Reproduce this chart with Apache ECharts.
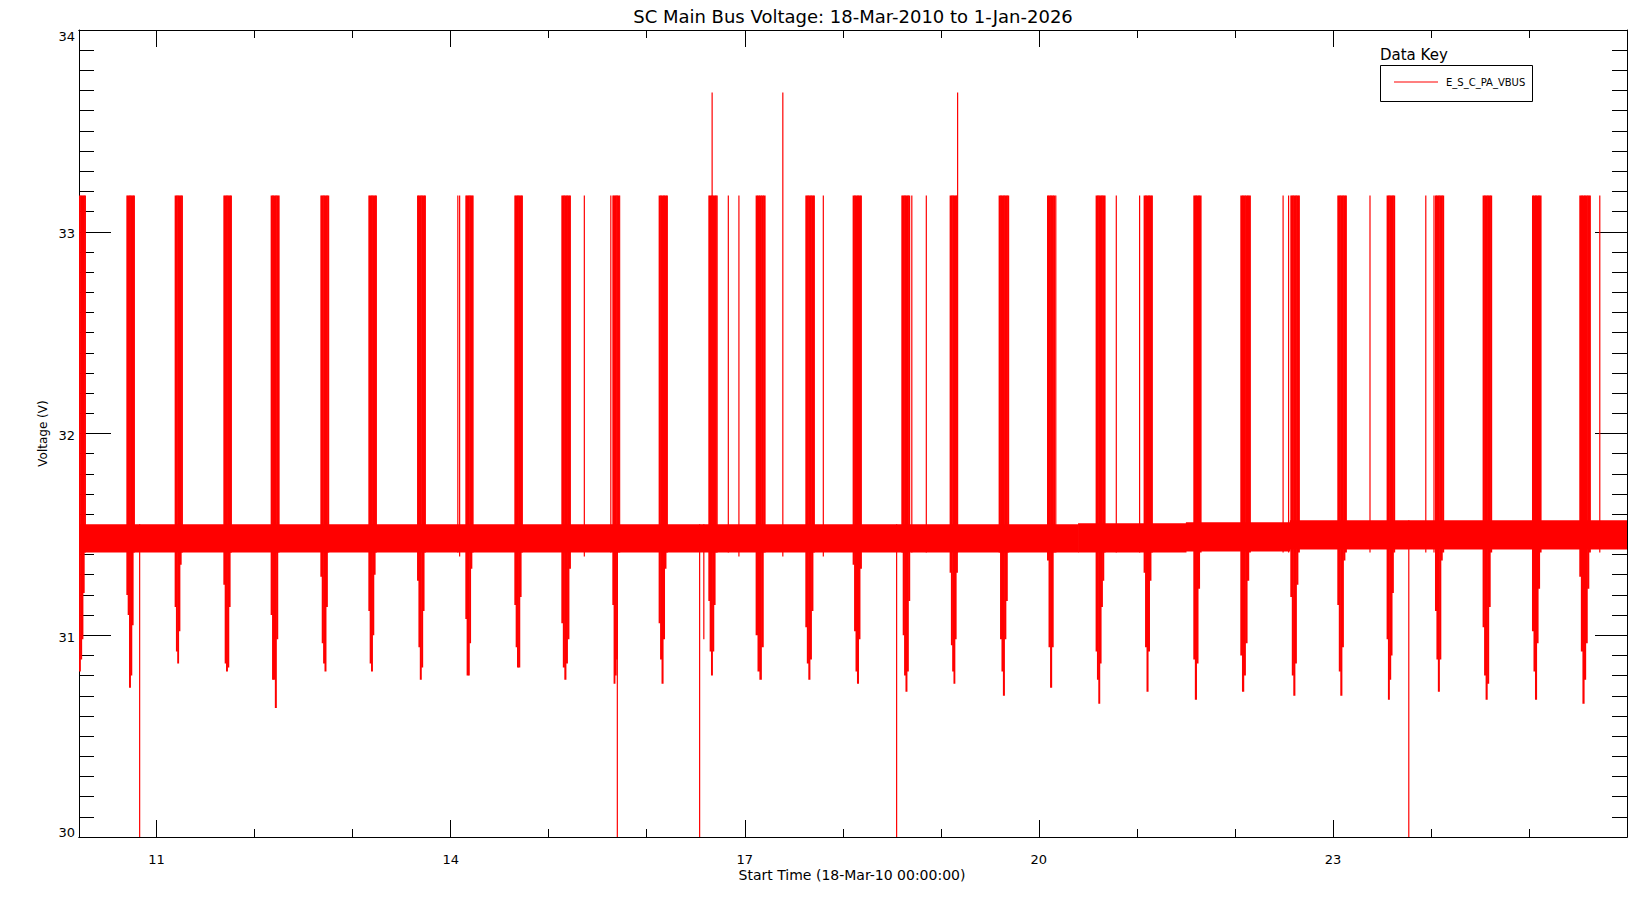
<!DOCTYPE html>
<html>
<head>
<meta charset="utf-8">
<script src="https://cdn.jsdelivr.net/npm/echarts@6/dist/echarts.min.js"></script>
<style>html,body{margin:0;padding:0;background:#fff}#chart{width:1650px;height:900px}</style>
</head>
<body>
<div id="chart"></div>
<script>
// ---------------- DATA (decimal years / volts) ----------------
const xStart = 2010.2082;   // 18-Mar-2010
const xEnd = 2026.0;        // 1-Jan-2026
const yearTicks = [2011, 2012, 2013, 2014, 2015, 2016, 2017, 2018, 2019, 2020, 2021, 2022, 2023, 2024, 2025];
const yearLabels = [2011, 2014, 2017, 2020, 2023];

// Normal operating band of the bus voltage
const bandStart = [2010.2082, 2020.40, 2021.50, 2022.56];
const bandEnd   = [2020.40, 2021.50, 2022.56, 2026.0];
const bandLow   = [31.41, 31.41, 31.415, 31.425];
const bandHigh  = [31.55, 31.555, 31.56, 31.57];

// Eclipse seasons: upper value reached, and the lows read across each season
const seasonTop = 33.18;
const seasonStart = [2010.2082, 2010.6912, 2011.1839, 2011.6807, 2012.1632, 2012.6702, 2013.1599, 2013.6566,
  2014.1493, 2014.6492, 2015.1286, 2015.6489, 2016.1212, 2016.6282, 2017.1107, 2017.6177,
  2018.1002, 2018.5970, 2019.0897, 2019.5895, 2020.0832, 2020.5790, 2021.0686, 2021.5757,
  2022.0551, 2022.5651, 2023.0446, 2023.5475, 2024.0412, 2024.5268, 2025.0307, 2025.5132];
const seasonEnd = [2010.2730, 2010.7728, 2011.2625, 2011.7623, 2012.2489, 2012.7549, 2013.2415, 2013.7413,
  2014.2279, 2014.7308, 2015.2205, 2015.7131, 2016.2099, 2016.7098, 2017.2066, 2017.7095,
  2018.1889, 2018.6816, 2019.1682, 2019.6915, 2020.1608, 2020.6749, 2021.1574, 2021.6542,
  2022.1571, 2022.6569, 2023.1364, 2023.6291, 2024.1289, 2024.6186, 2025.1225, 2025.6254];
const seasonLows = [
  [30.82, 30.88, 30.98, 31.21, 31.41],
  [31.20, 31.10, 30.74, 30.80, 31.05, 31.41],
  [31.14, 30.92, 30.86, 31.02, 31.35, 31.41],
  [31.25, 30.86, 30.82, 30.84, 31.14, 31.41],
  [31.10, 30.78, 30.78, 30.64, 30.98, 31.41],
  [31.29, 30.96, 30.86, 30.82, 31.14, 31.41],
  [31.12, 30.86, 30.82, 31.00, 31.30, 31.41],
  [31.27, 30.94, 30.78, 30.84, 31.12, 31.41],
  [31.08, 30.80, 30.80, 30.96, 31.33, 31.41],
  [31.15, 30.94, 30.84, 30.84, 31.19, 31.41],
  [31.06, 30.84, 30.78, 30.86, 30.98, 31.33],
  [31.15, 30.76, 30.80, 30.88, 31.41],
  [31.06, 30.88, 30.76, 30.98, 31.33, 31.41],
  [31.17, 30.92, 30.80, 30.92, 31.15, 31.41],
  [31.00, 30.82, 30.78, 30.94, 31.41],
  [31.04, 30.86, 30.78, 30.88, 31.12, 31.41],
  [31.35, 31.02, 30.82, 30.76, 30.98, 31.33],
  [31.41, 31.00, 30.80, 30.72, 30.82, 31.17],
  [31.31, 30.95, 30.82, 30.76, 30.98, 31.31],
  [31.41, 30.98, 30.82, 30.70, 30.98, 31.17, 31.41],
  [31.37, 30.94, 30.74, 30.94, 31.41],
  [30.92, 30.78, 30.66, 30.86, 31.14, 31.27, 31.41],
  [31.31, 30.94, 30.72, 30.92, 31.27, 31.41],
  [30.88, 30.68, 30.86, 31.23, 31.41],
  [30.90, 30.72, 30.80, 30.96, 31.27, 31.41],
  [31.19, 30.80, 30.70, 30.86, 31.25, 31.41],
  [31.15, 30.82, 30.70, 30.94, 31.37, 31.41],
  [30.98, 30.68, 30.78, 30.90, 31.21, 31.41],
  [31.12, 30.88, 30.72, 30.88, 31.37, 31.41],
  [31.04, 30.80, 30.68, 30.76, 31.14, 31.41],
  [31.02, 30.82, 30.68, 30.96, 31.23, 31.41],
  [31.29, 30.92, 30.66, 30.78, 30.96, 31.23, 31.41]
];

// Isolated single-sample excursions
const spikeTime = [2014.0728, 2014.0912, 2015.3633, 2015.6336, 2015.7234, 2016.7180, 2016.8322, 2016.9403,
  2017.8013, 2018.7041, 2018.8520, 2020.1730, 2020.7901, 2021.0279, 2022.4917, 2022.5478,
  2023.3782, 2023.9474, 2024.0311, 2025.7224,
  2016.6670, 2017.3882, 2019.1713,
  2010.8269, 2015.6999, 2016.5395, 2018.5491, 2023.7740, 2016.5823];
const spikeLow = [31.41, 31.39, 31.39, 31.41, 31.41, 31.41, 31.41, 31.39,
  31.39, 31.41, 31.41, 31.41, 31.41, 31.41, 31.41, 31.41,
  31.41, 31.41, 31.41, 31.41,
  31.41, 31.39, 31.41,
  30.00, 30.00, 30.00, 30.00, 30.00, 30.98];
const spikeHigh = [33.18, 33.18, 33.18, 33.18, 33.18, 33.18, 33.18, 33.18,
  33.18, 33.18, 33.18, 33.18, 33.18, 33.18, 33.18, 33.18,
  33.18, 33.18, 33.18, 33.18,
  33.69, 33.69, 33.69,
  31.55, 31.55, 31.55, 31.55, 31.57, 31.55];

// ---------------- build series data ----------------
const segs = [];
for (let i = 0; i < bandStart.length; i++) segs.push([bandStart[i], bandEnd[i], bandLow[i], bandHigh[i]]);
for (let s = 0; s < seasonStart.length; s++) {
  const lows = seasonLows[s];
  const w = (seasonEnd[s] - seasonStart[s]) / lows.length;
  for (let k = 0; k < lows.length; k++) {
    segs.push([seasonStart[s] + k * w, seasonStart[s] + (k + 1) * w, lows[k], seasonTop]);
  }
}
for (let i = 0; i < spikeTime.length; i++) segs.push([spikeTime[i], spikeTime[i], spikeLow[i], spikeHigh[i]]);

const FONT = 'DejaVu Sans';
const RED = '#ff0000';

function renderItem(params, api) {
  const a = api.coord([api.value(0), api.value(3)]);
  const b = api.coord([api.value(1), api.value(2)]);
  let x = a[0], w = b[0] - a[0];
  if (w < 1.2) { x = (a[0] + b[0]) / 2 - 0.6; w = 1.2; } else { w += 0.6; }
  return { type: 'rect', shape: { x: x, y: a[1], width: w, height: b[1] - a[1] }, style: { fill: RED } };
}

function xAx(grid, pos, ticks, len, labels) {
  return {
    gridIndex: grid, type: 'value', position: pos, min: xStart, max: xEnd,
    axisLine: { show: true, onZero: false, lineStyle: { color: '#000', width: 1 } },
    axisTick: { show: true, inside: true, length: len, customValues: ticks, lineStyle: { color: '#000', width: 1 } },
    axisLabel: labels ? { show: true, customValues: yearLabels, formatter: v => String(Math.round(v) % 100).padStart(2, '0'),
      color: '#000', fontSize: 13, fontFamily: FONT, margin: 16 } : { show: false },
    splitLine: { show: false }
  };
}
const yLab = { fontSize: 13, fontFamily: FONT, color: '#000' };
function yAx(grid, pos, labels) {
  return {
    gridIndex: grid, type: 'value', position: pos, min: 30, max: 34, interval: 1,
    axisLine: { show: true, onZero: false, lineStyle: { color: '#000', width: 1 } },
    axisTick: { show: true, inside: true, length: 32, lineStyle: { color: '#000', width: 1 } },
    minorTick: { show: true, splitNumber: 10, length: 15, lineStyle: { color: '#000', width: 1 } },
    axisLabel: labels ? {
      show: true, color: '#000', fontSize: 13, fontFamily: FONT, margin: 4,
      formatter: v => (v === 34 ? '{mx|' + v + '}' : v === 30 ? '{mn|' + v + '}' : '{md|' + v + '}'),
      rich: {
        mx: Object.assign({ padding: [13, 0, 0, 0] }, yLab),
        mn: Object.assign({ padding: [0, 0, 10, 0] }, yLab),
        md: Object.assign({ padding: [4, 0, 0, 0] }, yLab)
      }
    } : { show: false },
    splitLine: { show: false }, minorSplitLine: { show: false }
  };
}

const chart = echarts.init(document.getElementById('chart'), null, { renderer: 'svg', width: 1650, height: 900 });
chart.setOption({
  animation: false,
  backgroundColor: '#fff',
  title: {
    text: 'SC Main Bus Voltage: 18-Mar-2010 to 1-Jan-2026',
    left: 853, top: 7, textAlign: 'center', padding: 0,
    textStyle: { fontFamily: FONT, fontSize: 18, fontWeight: 'normal', color: '#000' }
  },
  grid: [
    { left: 79, right: 23, top: 30, bottom: 63 },
    { left: 79, right: 23, top: 30, bottom: 63 }
  ],
  xAxis: [
    xAx(0, 'bottom', yearLabels, 17, true),
    xAx(0, 'top', yearLabels, 17, false),
    xAx(1, 'bottom', yearTicks, 8, false),
    xAx(1, 'top', yearTicks, 8, false)
  ],
  yAxis: [yAx(0, 'left', true), yAx(1, 'right', false)],
  legend: {
    data: [{ name: 'E_S_C_PA_VBUS', icon: 'rect' }],
    left: 1394, top: 77, padding: 0, itemWidth: 44, itemHeight: 1, selectedMode: false,
    textStyle: { fontFamily: FONT, fontSize: 10, color: '#000', padding: [0, 0, 0, 3] }
  },
  graphic: [
    { type: 'rect', shape: { x: 1380.5, y: 65.5, width: 152, height: 36 }, style: { fill: 'none', stroke: '#000', lineWidth: 1 } },
    { type: 'text', x: 1380, y: 55, style: { text: 'Data Key', font: '15px DejaVu Sans', fill: '#000', textAlign: 'left', textVerticalAlign: 'middle' } },
    { type: 'text', x: 852, y: 875, style: { text: 'Start Time (18-Mar-10 00:00:00)', font: '14px DejaVu Sans', fill: '#000', textAlign: 'center', textVerticalAlign: 'middle' } },
    { type: 'text', x: 43, y: 433.5, rotation: Math.PI / 2, style: { text: 'Voltage (V)', font: '12px DejaVu Sans', fill: '#000', textAlign: 'center', textVerticalAlign: 'middle' } }
  ],
  series: [{
    type: 'custom', name: 'E_S_C_PA_VBUS', xAxisIndex: 0, yAxisIndex: 0,
    itemStyle: { color: RED }, clip: true,
    encode: { x: [0, 1], y: [2, 3] },
    renderItem: renderItem,
    data: segs
  }]
});
</script>
</body>
</html>
